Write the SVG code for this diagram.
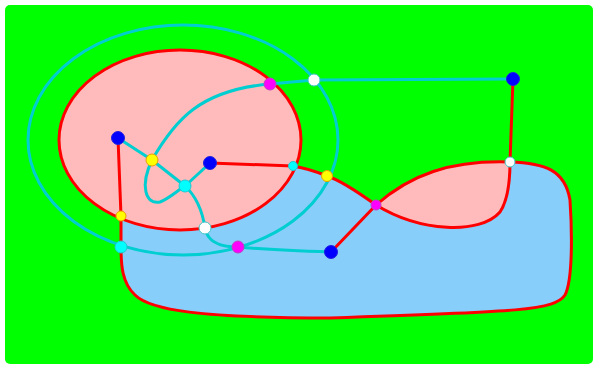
<svg xmlns="http://www.w3.org/2000/svg" width="594" height="365" viewBox="0 0 594 365">
<style>
.red{fill:none;stroke:#ff0000;stroke-width:3;stroke-linecap:round;stroke-linejoin:round}
.cy{fill:none;stroke:#00ced1;stroke-width:3;stroke-linecap:round;stroke-linejoin:round}
.nb{fill:#0000ff;stroke:#2020e0;stroke-width:1}
.ny{fill:#ffff00;stroke:#e8a000;stroke-width:1}
.nc{fill:#00ffff;stroke:#20c8d0;stroke-width:1}
.nw{fill:#ffffff;stroke:#40c8c8;stroke-width:1}
.nm{fill:#ff00ff;stroke:#c040c0;stroke-width:1}
</style>
<rect x="0" y="0" width="594" height="365" fill="#ffffff"/>
<rect x="5" y="5" width="588" height="359" rx="5" fill="#00ff00"/>
<g id="regions">
<path d="M118,138 L121,216 L121,247 C121,265 122,283 135,295 C150,310 200,318 330,318 C520,312 555,310 565,295 C573,280 572,230 570,200 C565,170 545,163 510,162 C450,160 410,175 376,205 C355,190 340,180 327,176 C315,171 305,168 293,166 L210,163 Z" fill="#87cefa"/>
<path d="M376,205 C410,175 450,160 510,162 C510,180 508,200 500,212 C480,235 420,232 376,205 Z" fill="#ffbbbb"/>
<ellipse cx="180" cy="140" rx="121" ry="90" fill="#ffbbbb"/>
</g>
<g id="connectors">
<path class="red" d="M121,216 L121,247 C121,265 122,283 135,295 C150,310 200,318 330,318 C520,312 555,310 565,295 C573,280 572,230 570,200 C565,170 545,163 510,162 C450,160 410,175 376,205"/>
<path class="red" d="M376,205 C420,232 480,235 500,212 C508,200 510,180 510,162"/>
<ellipse class="red" cx="180" cy="140" rx="121" ry="90"/>
<path class="red" d="M118,138 L121,216"/>
<path class="red" d="M210,163 L293,166 C305,168 315,171 327,176 C340,180 355,190 376,205"/>
<path class="red" d="M376,205 L331,252"/>
<path class="red" d="M513,79 L510,162"/>
<ellipse class="cy" cx="183" cy="140" rx="155" ry="115"/>
<path class="cy" d="M118,138 L152,160 L185,186 L210,163"/>
<path class="cy" d="M152,160 C175,120 200,90 270,84"/>
<path class="cy" d="M152,160 C140,185 145,205 160,202 C170,198 178,190 185,186"/>
<path class="cy" d="M185,186 C198,198 203,215 205,228"/>
<path class="cy" d="M205,228 C208,245 225,247 238,247"/>
<path class="cy" d="M238,247 C270,250 300,251 331,252"/>
<path class="cy" d="M270,84 L314,80 L513,79"/>
</g>
<g id="n1"><circle class="nb" cx="118" cy="138" r="6.5"/></g>
<g id="n2"><circle class="nb" cx="210" cy="163" r="6.5"/></g>
<g id="n3"><circle class="nb" cx="513" cy="79" r="6.5"/></g>
<g id="n4"><circle class="nb" cx="331" cy="252" r="6.5"/></g>
<g id="n5"><circle class="ny" cx="152" cy="160" r="6"/></g>
<g id="n6"><circle class="ny" cx="121" cy="216" r="5"/></g>
<g id="n7"><circle class="ny" cx="327" cy="176" r="5.5"/></g>
<g id="n8"><circle class="nc" cx="185" cy="186" r="6"/></g>
<g id="n9"><circle class="nc" cx="121" cy="247" r="6"/></g>
<g id="n10"><circle class="nc" cx="293" cy="166" r="4.5"/></g>
<g id="n11"><circle class="nw" cx="314" cy="80" r="6"/></g>
<g id="n12"><circle class="nw" cx="205" cy="228" r="6"/></g>
<g id="n13"><circle class="nw" cx="510" cy="162" r="5"/></g>
<g id="n14"><circle class="nm" cx="270" cy="84" r="6"/></g>
<g id="n15"><circle class="nm" cx="238" cy="247" r="6"/></g>
<g id="n16"><circle class="nm" cx="376" cy="205" r="5"/></g>
</svg>
